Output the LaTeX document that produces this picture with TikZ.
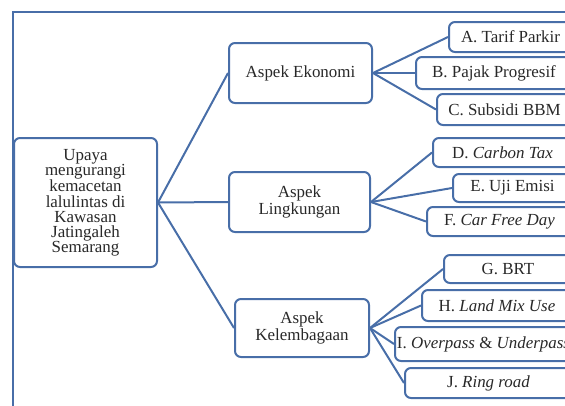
\documentclass[tikz,border=0pt]{standalone}
\usepackage{fontspec}
\setmainfont{Liberation Serif}
\definecolor{frameblue}{RGB}{72,110,168}
\definecolor{txt}{RGB}{40,40,40}
\tikzset{
  box/.style={draw=frameblue, line width=1.5pt, rounded corners=4.5pt, fill=white,
    align=center, text=txt, inner xsep=0pt, inner ysep=0pt,
    font=\fontsize{12.7}{11.3}\selectfont},
  link/.style={draw=frameblue, line width=1.5pt},
  frameline/.style={draw=frameblue, line width=1.6pt}
}
\begin{document}
\begin{tikzpicture}[x=0.75pt,y=-0.75pt]
\useasboundingbox (0,0) rectangle (565,405);
\clip (0,0) rectangle (565,405);
\draw[frameline] (13,12) rectangle (640,470);
% root and level 1
\node[box, minimum width=107.25pt, minimum height=96.75pt] (root) at (85.5,202.5)
  {Upaya\\mengurangi\\kemacetan\\lalulintas di\\Kawasan\\Jatingaleh\\Semarang};
\node[box, minimum width=107.25pt, minimum height=45pt] (eko) at (300.5,73) {Aspek Ekonomi};
\node[box, minimum width=105.75pt, minimum height=45pt] (ling) at (299.5,202) {Aspek\\Lingkungan};
\node[box, minimum width=100.5pt, minimum height=43.5pt] (kel) at (302,328) {Aspek\\Kelembagaan};
% leaves
\node[box, minimum width=92.25pt,  minimum height=22.5pt]  (a) at (510.5,37)    {A. Tarif Parkir};
\node[box, minimum width=117pt,    minimum height=24pt]    (b) at (494,73)      {B. Pajak Progresif};
\node[box, minimum width=101.25pt, minimum height=23.25pt] (c) at (504.5,109.5) {C. Subsidi BBM};
\node[box, minimum width=104.25pt, minimum height=21.75pt] (d) at (502.5,152.5) {D. \textit{Carbon Tax}};
\node[box, minimum width=89.25pt,  minimum height=21pt]    (e) at (512.5,188)   {E. Uji Emisi};
\node[box, minimum width=108.75pt, minimum height=21.75pt] (f) at (499.5,221.5) {F. \textit{Car Free Day}};
\node[box, minimum width=96pt,     minimum height=21pt]    (g) at (508,269)     {G. BRT};
\node[box, minimum width=112.5pt,  minimum height=23.25pt] (h) at (497,305.5)   {H. \textit{Land Mix Use}};
\node[box, minimum width=132.75pt, minimum height=25.5pt]  (i) at (483.5,344)   {I. \textit{Overpass} \& \textit{Underpass}};
\node[box, minimum width=125.25pt, minimum height=22.5pt]  (j) at (488.5,383)   {J. \textit{Ring road}};
% connectors
\foreach \t in {eko,ling,kel} \draw[link] (root.east) -- (\t.west);
\foreach \t in {a,b,c} \draw[link] (eko.east) -- (\t.west);
\foreach \t in {d,e,f} \draw[link] (ling.east) -- (\t.west);
\foreach \t in {g,h,i,j} \draw[link] (kel.east) -- (\t.west);
\end{tikzpicture}
\end{document}
